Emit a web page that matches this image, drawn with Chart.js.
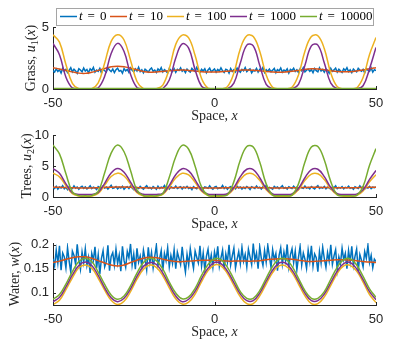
<!DOCTYPE html>
<html>
<head>
<meta charset="utf-8">
<script src="https://cdn.jsdelivr.net/npm/chart.js@4.4.0/dist/chart.umd.min.js"></script>
<style>
body{margin:0;background:#fff}
#wrap{position:relative;width:415px;height:360px;overflow:hidden}
canvas{position:absolute;left:0}
</style>
</head>
<body>
<div id="wrap">
<canvas id="chart1" width="415" height="130" style="top:0px"></canvas>
<canvas id="chart2" width="415" height="120" style="top:120px"></canvas>
<canvas id="chart3" width="415" height="130" style="top:230px"></canvas>
</div>
<script>
// series names / colours (MATLAB default order)
const seriesLabels = ["t = 0", "t = 10", "t = 100", "t = 1000", "t = 10000"];
const seriesColors = ["#0072BD", "#D95319", "#EDB120", "#7E2F8E", "#77AC30"];

// tick labels
const xTicks = [-50, 0, 50];
const grassTicks = [0, 5];
const treesTicks = [0, 5, 10];
const waterTicks = [0.1, 0.15, 0.2];

// fine grid for the noisy initial state t = 0
const xFine = [
 -50,-49.5,-49,-48.5,-48,-47.5,-47,-46.5,-46,-45.5,-45,-44.5,-44,-43.5,-43,-42.5,-42,-41.5,-41,-40.5,
 -40,-39.5,-39,-38.5,-38,-37.5,-37,-36.5,-36,-35.5,-35,-34.5,-34,-33.5,-33,-32.5,-32,-31.5,-31,-30.5,
 -30,-29.5,-29,-28.5,-28,-27.5,-27,-26.5,-26,-25.5,-25,-24.5,-24,-23.5,-23,-22.5,-22,-21.5,-21,-20.5,
 -20,-19.5,-19,-18.5,-18,-17.5,-17,-16.5,-16,-15.5,-15,-14.5,-14,-13.5,-13,-12.5,-12,-11.5,-11,-10.5,
 -10,-9.5,-9,-8.5,-8,-7.5,-7,-6.5,-6,-5.5,-5,-4.5,-4,-3.5,-3,-2.5,-2,-1.5,-1,-0.5,
 0,0.5,1,1.5,2,2.5,3,3.5,4,4.5,5,5.5,6,6.5,7,7.5,8,8.5,9,9.5,
 10,10.5,11,11.5,12,12.5,13,13.5,14,14.5,15,15.5,16,16.5,17,17.5,18,18.5,19,19.5,
 20,20.5,21,21.5,22,22.5,23,23.5,24,24.5,25,25.5,26,26.5,27,27.5,28,28.5,29,29.5,
 30,30.5,31,31.5,32,32.5,33,33.5,34,34.5,35,35.5,36,36.5,37,37.5,38,38.5,39,39.5,
 40,40.5,41,41.5,42,42.5,43,43.5,44,44.5,45,45.5,46,46.5,47,47.5,48,48.5,49,49.5,
 50
];

// coarse grid for the smooth states
const xCoarse = [
 -50,-48,-46,-44,-42,-40,-38,-36,-34,-32,
 -30,-28,-26,-24,-22,-20,-18,-16,-14,-12,
 -10,-8,-6,-4,-2,0,2,4,6,8,
 10,12,14,16,18,20,22,24,26,28,
 30,32,34,36,38,40,42,44,46,48,
 50
];

// ---------- Grass u1 ----------
const grassT0 = [
 1.48,1.36,1.62,1.41,1.55,1.29,1.67,1.44,1.58,1.33,1.51,1.72,1.39,1.60,1.46,1.27,1.64,1.53,1.38,1.69,
 1.45,1.57,1.31,1.63,1.49,1.74,1.35,1.52,1.42,1.66,1.30,1.59,1.47,1.37,1.70,1.54,1.40,1.61,1.32,1.56,
 1.68,1.43,1.50,1.28,1.65,1.46,1.58,1.34,1.71,1.52,1.39,1.63,1.45,1.76,1.41,1.55,1.30,1.60,1.48,1.36,
 1.57,1.69,1.42,1.53,1.33,1.62,1.47,1.73,1.38,1.56,1.44,1.29,1.66,1.51,1.40,1.64,1.35,1.58,1.49,1.70,
 1.43,1.55,1.32,1.61,1.46,1.37,1.67,1.52,1.41,1.75,1.48,1.34,1.59,1.45,1.63,1.31,1.54,1.68,1.39,1.50,
 1.62,1.36,1.57,1.44,1.71,1.47,1.33,1.60,1.53,1.28,1.65,1.42,1.56,1.38,1.69,1.49,1.35,1.58,1.46,1.72,
 1.40,1.54,1.63,1.30,1.51,1.45,1.67,1.37,1.59,1.48,1.74,1.34,1.55,1.43,1.61,1.39,1.52,1.66,1.32,1.57,
 1.47,1.70,1.36,1.53,1.44,1.62,1.29,1.58,1.50,1.68,1.41,1.55,1.33,1.64,1.46,1.73,1.38,1.52,1.60,1.42,
 1.56,1.31,1.65,1.48,1.39,1.71,1.45,1.57,1.35,1.62,1.50,1.27,1.66,1.43,1.54,1.69,1.37,1.59,1.46,1.34,
 1.63,1.49,1.72,1.40,1.55,1.32,1.61,1.47,1.38,1.67,1.53,1.44,1.58,1.30,1.64,1.51,1.42,1.70,1.36,1.56,
 1.48
];
const grassT10 = [
 1.72,1.62,1.50,1.38,1.28,1.26,1.35,1.50,1.65,1.80,
 1.84,1.80,1.68,1.55,1.42,1.36,1.37,1.42,1.48,1.52,
 1.53,1.50,1.45,1.40,1.37,1.37,1.39,1.43,1.48,1.52,
 1.54,1.52,1.47,1.42,1.38,1.36,1.38,1.43,1.50,1.58,
 1.63,1.62,1.56,1.48,1.42,1.39,1.40,1.45,1.53,1.63,
 1.72
];
const grassT100 = [
 4.37,3.78,1.98,0.46,0.02,0.00,0.03,0.50,2.09,3.84,
 4.38,3.95,2.32,0.60,0.03,0.00,0.02,0.32,1.65,3.60,
 4.35,4.12,2.70,0.85,0.07,0.00,0.01,0.19,1.29,3.25,
 4.29,4.24,3.05,1.13,0.14,0.01,0.01,0.14,1.13,3.05,
 4.24,4.29,3.25,1.29,0.19,0.01,0.00,0.08,0.92,2.79,
 4.15
];
const grassT1000 = [
 3.67,2.77,0.95,0.08,0.00,0.00,0.00,0.09,1.02,2.86,
 3.68,3.02,1.19,0.12,0.00,0.00,0.00,0.04,0.72,2.50,
 3.64,3.30,1.55,0.22,0.01,0.00,0.00,0.02,0.48,2.10,
 3.54,3.48,1.91,0.38,0.01,0.00,0.00,0.01,0.38,1.91,
 3.48,3.54,2.10,0.48,0.02,0.00,0.00,0.01,0.26,1.64,
 3.35
];
const grassT10000 = [
 0.04,0.04,0.04,0.04,0.04,0.04,0.04,0.04,0.04,0.04,
 0.04,0.04,0.04,0.04,0.04,0.04,0.04,0.04,0.04,0.04,
 0.04,0.04,0.04,0.04,0.04,0.04,0.04,0.04,0.04,0.04,
 0.04,0.04,0.04,0.04,0.04,0.04,0.04,0.04,0.04,0.04,
 0.04,0.04,0.04,0.04,0.04,0.04,0.04,0.04,0.04,0.04,
 0.04
];

// ---------- Trees u2 ----------
const treesT0 = [
 1.52,1.38,1.71,1.26,1.60,1.45,1.83,1.33,1.57,1.19,1.66,1.48,1.35,1.78,1.42,1.62,1.24,1.55,1.74,1.40,
 1.63,1.29,1.50,1.81,1.37,1.58,1.46,1.22,1.69,1.53,1.34,1.76,1.44,1.61,1.28,1.56,1.87,1.39,1.49,1.67,
 1.31,1.59,1.43,1.73,1.25,1.54,1.65,1.36,1.80,1.47,1.21,1.62,1.51,1.38,1.70,1.45,1.27,1.58,1.84,1.41,
 1.55,1.32,1.68,1.48,1.23,1.75,1.39,1.60,1.46,1.86,1.34,1.57,1.29,1.64,1.50,1.42,1.77,1.36,1.53,1.66,
 1.28,1.61,1.44,1.72,1.37,1.52,1.20,1.67,1.49,1.35,1.79,1.43,1.59,1.30,1.63,1.54,1.40,1.82,1.47,1.26,
 1.58,1.71,1.33,1.50,1.45,1.85,1.38,1.62,1.24,1.56,1.68,1.41,1.53,1.31,1.74,1.46,1.60,1.27,1.57,1.39,
 1.69,1.48,1.22,1.64,1.52,1.36,1.78,1.44,1.59,1.30,1.66,1.51,1.88,1.35,1.55,1.42,1.25,1.70,1.47,1.61,
 1.34,1.57,1.81,1.40,1.53,1.27,1.65,1.49,1.37,1.73,1.45,1.58,1.21,1.62,1.50,1.39,1.76,1.43,1.56,1.32,
 1.67,1.46,1.29,1.60,1.84,1.38,1.54,1.42,1.71,1.33,1.59,1.48,1.25,1.63,1.51,1.80,1.36,1.55,1.44,1.68,
 1.31,1.57,1.47,1.75,1.40,1.52,1.23,1.64,1.50,1.37,1.79,1.45,1.61,1.28,1.56,1.43,1.70,1.35,1.58,1.49,
 1.62
];
const treesT10 = [
 1.58,1.56,1.53,1.49,1.46,1.45,1.47,1.51,1.55,1.59,
 1.61,1.60,1.56,1.52,1.48,1.46,1.46,1.48,1.50,1.52,
 1.53,1.52,1.50,1.48,1.46,1.46,1.47,1.49,1.51,1.53,
 1.54,1.53,1.51,1.49,1.47,1.46,1.47,1.49,1.51,1.54,
 1.56,1.56,1.54,1.51,1.49,1.48,1.48,1.50,1.53,1.56,
 1.59
];
const treesT100 = [
 3.84,3.25,1.85,0.52,0.15,0.12,0.15,0.58,1.92,3.30,
 3.85,3.39,2.08,0.71,0.16,0.12,0.13,0.42,1.62,3.05,
 3.82,3.55,2.38,0.93,0.22,0.12,0.13,0.33,1.32,2.81,
 3.74,3.69,2.68,1.18,0.28,0.12,0.12,0.28,1.18,2.68,
 3.69,3.74,2.81,1.32,0.33,0.13,0.12,0.23,0.99,2.45,
 3.60
];
const treesT1000 = [
 4.59,3.82,2.12,0.68,0.42,0.40,0.42,0.74,2.21,3.88,
 4.60,4.00,2.39,0.86,0.43,0.40,0.41,0.60,1.87,3.60,
 4.56,4.22,2.75,1.10,0.45,0.40,0.40,0.52,1.53,3.28,
 4.48,4.42,3.11,1.38,0.49,0.40,0.40,0.49,1.38,3.11,
 4.42,4.48,3.28,1.53,0.52,0.40,0.40,0.46,1.16,2.83,
 4.27
];
const treesT10000 = [
 8.39,6.95,3.75,0.82,0.22,0.20,0.22,0.90,3.92,7.08,
 8.40,7.30,4.27,1.10,0.23,0.20,0.21,0.55,3.20,6.50,
 8.33,7.70,4.95,1.60,0.26,0.20,0.20,0.35,2.48,5.95,
 8.15,8.07,5.63,2.12,0.31,0.20,0.20,0.31,2.12,5.63,
 8.07,8.15,5.95,2.48,0.35,0.20,0.20,0.27,1.72,5.12,
 7.80
];

// ---------- Water w ----------
const waterT0 = [
 0.171,0.156,0.189,0.162,0.198,0.147,0.183,0.175,0.152,0.194,0.166,0.143,0.187,0.178,0.159,0.201,0.169,0.149,0.185,0.163,
 0.192,0.157,0.174,0.141,0.182,0.168,0.196,0.151,0.179,0.139,0.172,0.188,0.154,0.165,0.199,0.146,0.176,0.184,0.158,0.191,
 0.161,0.179,0.145,0.197,0.167,0.153,0.186,0.173,0.202,0.158,0.181,0.149,0.193,0.164,0.177,0.155,0.189,0.170,0.148,0.195,
 0.163,0.184,0.152,0.176,0.199,0.157,0.171,0.188,0.146,0.182,0.167,0.194,0.154,0.178,0.161,0.190,0.150,0.185,0.172,0.159,
 0.196,0.165,0.143,0.180,0.158,0.192,0.169,0.151,0.187,0.174,0.162,0.198,0.156,0.183,0.147,0.176,0.191,0.160,0.179,0.153,
 0.185,0.168,0.197,0.155,0.173,0.189,0.149,0.181,0.164,0.200,0.158,0.177,0.193,0.152,0.170,0.186,0.161,0.195,0.166,0.180,
 0.154,0.191,0.175,0.159,0.203,0.168,0.183,0.150,0.196,0.172,0.157,0.188,0.164,0.199,0.176,0.153,0.190,0.169,0.182,0.146,
 0.178,0.194,0.160,0.185,0.167,0.201,0.155,0.179,0.192,0.163,0.187,0.148,0.174,0.197,0.158,0.183,0.170,0.151,0.189,0.165,
 0.198,0.156,0.181,0.173,0.144,0.186,0.162,0.195,0.171,0.153,0.184,0.166,0.200,0.159,0.177,0.190,0.148,0.175,0.161,0.193,
 0.169,0.182,0.150,0.188,0.164,0.197,0.157,0.176,0.191,0.145,0.180,0.168,0.154,0.186,0.172,0.199,0.163,0.178,0.152,0.170,
 0.165
];
const waterT10 = [
 0.163,0.166,0.170,0.173,0.175,0.175,0.172,0.167,0.162,0.158,
 0.156,0.158,0.163,0.168,0.172,0.174,0.173,0.170,0.167,0.165,
 0.165,0.166,0.167,0.168,0.168,0.168,0.167,0.166,0.166,0.166,
 0.166,0.166,0.167,0.169,0.170,0.171,0.171,0.170,0.168,0.166,
 0.165,0.166,0.167,0.168,0.169,0.169,0.168,0.167,0.165,0.164,
 0.163
];
const waterT100 = [
 0.075,0.084,0.106,0.131,0.152,0.158,0.151,0.130,0.105,0.084,
 0.075,0.082,0.102,0.128,0.149,0.158,0.153,0.135,0.110,0.087,
 0.076,0.080,0.097,0.123,0.146,0.158,0.156,0.140,0.115,0.091,
 0.077,0.077,0.093,0.118,0.142,0.156,0.156,0.142,0.118,0.093,
 0.077,0.077,0.091,0.115,0.140,0.156,0.157,0.145,0.122,0.096,
 0.079
];
const waterT1000 = [
 0.081,0.090,0.112,0.137,0.157,0.164,0.157,0.136,0.110,0.089,
 0.081,0.088,0.108,0.134,0.155,0.163,0.159,0.141,0.116,0.093,
 0.081,0.086,0.103,0.129,0.151,0.163,0.161,0.145,0.121,0.097,
 0.083,0.083,0.099,0.124,0.147,0.162,0.162,0.147,0.124,0.099,
 0.083,0.083,0.097,0.121,0.145,0.161,0.163,0.150,0.127,0.102,
 0.085
];
const waterT10000 = [
 0.086,0.096,0.118,0.144,0.165,0.172,0.165,0.143,0.117,0.095,
 0.086,0.093,0.114,0.141,0.163,0.172,0.167,0.149,0.122,0.099,
 0.087,0.091,0.109,0.136,0.159,0.171,0.169,0.153,0.128,0.102,
 0.088,0.088,0.104,0.130,0.155,0.170,0.170,0.155,0.130,0.104,
 0.088,0.088,0.102,0.128,0.153,0.169,0.171,0.158,0.134,0.108,
 0.090
];

// axis titles, split so that the maths parts can be italic
const spaceTitle = [{t:"Space, "}, {t:"x", i:1}];
const grassTitle = [{t:"Grass, "}, {t:"u", i:1}, {t:"1", sub:1}, {t:"("}, {t:"x", i:1}, {t:")"}];
const treesTitle = [{t:"Trees, "}, {t:"u", i:1}, {t:"2", sub:1}, {t:"("}, {t:"x", i:1}, {t:")"}];
const waterTitle = [{t:"Water, "}, {t:"w", i:1}, {t:"("}, {t:"x", i:1}, {t:")"}];

const axisColor = "#262626";
Chart.defaults.font.family = "'Liberation Sans', Arial, sans-serif";

function fontOf(p, size){
    return (p.i ? "italic " : "") + Math.round(p.sub ? size * 0.7 : size) + "px 'Liberation Serif', 'Times New Roman', serif";
}

function drawRich(ctx, parts, x, y, angle, size, center){
    ctx.save();
    ctx.translate(x, y);
    ctx.rotate(angle);
    ctx.textBaseline = "middle";
    ctx.textAlign = "left";
    let w = 0;
    parts.forEach(p => { ctx.font = fontOf(p, size); w += ctx.measureText(p.t).width + (p.gap || 0); });
    let cx = center ? -w / 2 : 0;
    parts.forEach(p => {
        ctx.font = fontOf(p, size);
        ctx.fillText(p.t, cx, p.sub ? size * 0.28 : 0);
        cx += ctx.measureText(p.t).width + (p.gap || 0);
    });
    ctx.restore();
}

// legend with a box, above the first plot
function drawLegend(chart){
    const ctx = chart.ctx;
    const starts = [60, 110, 167, 230, 300];
    const y = 16.5;
    ctx.fillStyle = "#fff";
    ctx.fillRect(57, 9, 316, 16);
    ctx.strokeStyle = "#a5a5a5";
    ctx.lineWidth = 1;
    ctx.strokeRect(56.5, 8.5, 317, 17);
    chart.data.datasets.forEach((ds, i) => {
        const x0 = starts[i];
        ctx.strokeStyle = ds.borderColor;
        ctx.lineWidth = 1.5;
        ctx.beginPath();
        ctx.moveTo(x0, y);
        ctx.lineTo(x0 + 17, y);
        ctx.stroke();
        const num = ds.label.split(" = ")[1];
        ctx.fillStyle = "#000";
        drawRich(ctx, [{t:"t", i:1, gap:5}, {t:"=", gap:5}, {t:num}], x0 + 19, y, 0, 13, false);
    });
}

function decor(yTitle, yTitleX, withLegend){
    return {
        id: "decor",
        afterDraw(chart){
            const ctx = chart.ctx, a = chart.chartArea;
            const xs = chart.scales.x, ys = chart.scales.y;
            ctx.save();
            // ticks pointing inward
            ctx.strokeStyle = axisColor;
            ctx.lineWidth = 1;
            ctx.beginPath();
            xs.ticks.forEach(t => {
                const p = Math.round(xs.getPixelForValue(t.value)) + 0.5;
                ctx.moveTo(p, a.bottom);
                ctx.lineTo(p, a.bottom - 3);
            });
            ys.ticks.forEach(t => {
                const p = Math.round(ys.getPixelForValue(t.value)) + 0.5;
                ctx.moveTo(a.left, p);
                ctx.lineTo(a.left + 3, p);
            });
            ctx.stroke();
            ctx.fillStyle = axisColor;
            drawRich(ctx, spaceTitle, (a.left + a.right) / 2, a.bottom + 27, 0, 14, true);
            drawRich(ctx, yTitle, yTitleX, (a.top + a.bottom) / 2, -Math.PI / 2, 14, true);
            if(withLegend){
                drawLegend(chart);
            }
            ctx.restore();
        }
    };
}

function makeSet(i, xs, ys){
    return {
        label: seriesLabels[i],
        data: xs.map((x, k) => ({x: x, y: ys[k]})),
        borderColor: seriesColors[i],
        backgroundColor: seriesColors[i],
        borderWidth: 1.5,
        pointRadius: 0,
        tension: i == 0 ? 0 : 0.4,
        fill: false,
        order: 5 - i
    };
}

function makeChart(id, sets, yMin, yMax, yTicks, padTop, xHeight, title, titleX, legend){
    return new Chart(
        document.getElementById(id),
        {
            type: "line",
            data: { datasets: sets },
            options: {
                responsive: false,
                animation: false,
                devicePixelRatio: 1,
                layout: { padding: { left: 0, right: 39, top: padTop, bottom: 0 } },
                plugins: {
                    legend: { display: false },
                    tooltip: { enabled: false }
                },
                scales: {
                    x: {
                        type: "linear",
                        min: -50,
                        max: 50,
                        afterBuildTicks: s => { s.ticks = xTicks.map(v => ({value: v})); },
                        afterFit: s => { s.height = xHeight; },
                        grid: { drawOnChartArea: false, drawTicks: false },
                        border: { color: axisColor, width: 1 },
                        ticks: {
                            padding: 7,
                            maxRotation: 0,
                            color: axisColor,
                            font: { size: 13 },
                            callback: v => String(v)
                        }
                    },
                    y: {
                        type: "linear",
                        min: yMin,
                        max: yMax,
                        afterBuildTicks: s => { s.ticks = yTicks.map(v => ({value: v})); },
                        afterFit: s => { s.width = 53; },
                        grid: { drawOnChartArea: false, drawTicks: false },
                        border: { color: axisColor, width: 1 },
                        ticks: {
                            padding: 4,
                            color: axisColor,
                            font: { size: 13 },
                            callback: v => String(v)
                        }
                    }
                }
            },
            plugins: [decor(title, titleX, legend)]
        }
    );
}

// ---------- Grass ----------
makeChart("chart1", [
    makeSet(0, xFine, grassT0),
    makeSet(1, xCoarse, grassT10),
    makeSet(2, xCoarse, grassT100),
    makeSet(3, xCoarse, grassT1000),
    makeSet(4, xCoarse, grassT10000)
], 0, 5, grassTicks, 27, 41, grassTitle, 31, true);

// ---------- Trees ----------
makeChart("chart2", [
    makeSet(0, xFine, treesT0),
    makeSet(1, xCoarse, treesT10),
    makeSet(2, xCoarse, treesT100),
    makeSet(3, xCoarse, treesT1000),
    makeSet(4, xCoarse, treesT10000)
], 0, 10, treesTicks, 15, 43, treesTitle, 27, false);

// ---------- Water ----------
makeChart("chart3", [
    makeSet(0, xFine, waterT0),
    makeSet(1, xCoarse, waterT10),
    makeSet(2, xCoarse, waterT100),
    makeSet(3, xCoarse, waterT1000),
    makeSet(4, xCoarse, waterT10000)
], 0.074, 0.204, waterTicks, 13, 55, waterTitle, 15, false);
</script>
</body>
</html>
